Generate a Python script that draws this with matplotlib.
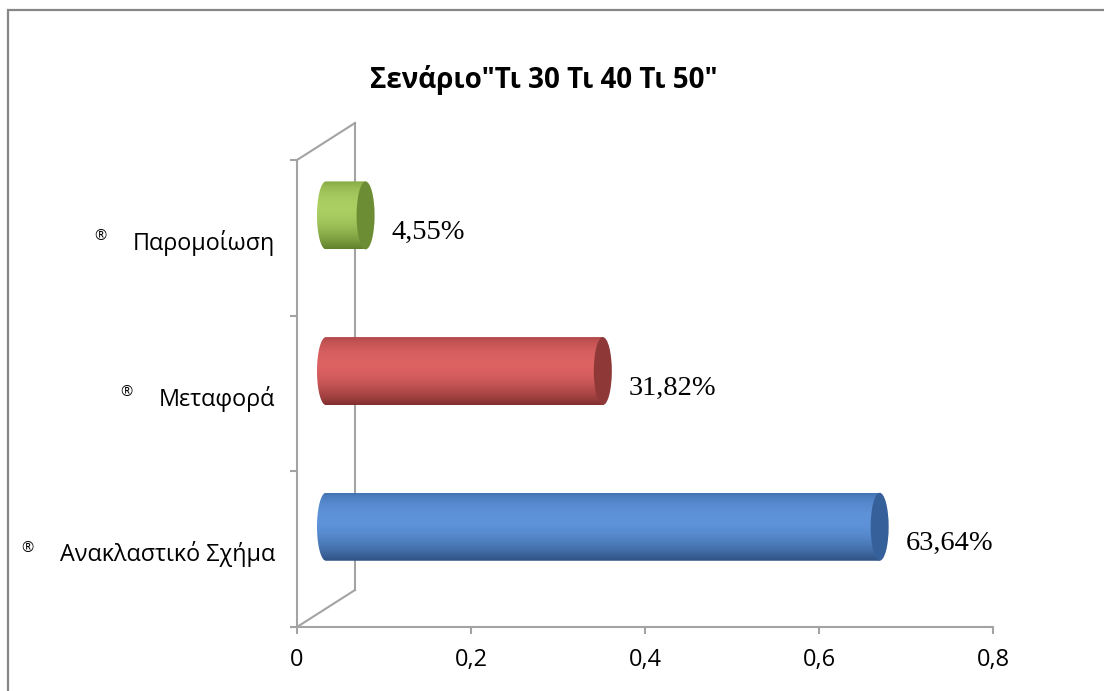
import numpy as np
import matplotlib
matplotlib.use("Agg")
import matplotlib.pyplot as plt
from matplotlib.patches import Ellipse, Polygon, Rectangle
from matplotlib.colors import to_rgb

# --- data -------------------------------------------------------------
categories = ["Ανακλαστικό Σχήμα", "Μεταφορά", "Παρομοίωση"]
values = [0.6364, 0.3182, 0.0455]
x_ticks = [0, 0.2, 0.4, 0.6, 0.8]
x_tick_labels = ["0", "0,2", "0,4", "0,6", "0,8"]
title = 'Σενάριο"Τι 30 Τι 40 Τι 50"'

# cylinder shading: (top edge, highlight, bottom edge, end cap)
palettes = [
    ("#4170AE", "#5E93DA", "#2E5283", "#36609A"),
    ("#AC4646", "#DD6262", "#822F2F", "#8E3838"),
    ("#82A540", "#ABCF62", "#60802B", "#6C8D33"),
]

W, H, DPI = 1104, 691, 100
fig = plt.figure(figsize=(W / DPI, H / DPI), dpi=DPI)
fig.patch.set_facecolor("white")

# plot area in pixels
x0_px, x1_px = 297, 993
ytop_px, ybot_px = 160, 627
ax = fig.add_axes([x0_px / W, (H - ybot_px) / H,
                   (x1_px - x0_px) / W, (ybot_px - ytop_px) / H])
ax.set_xlim(0, 0.8)
ax.set_ylim(-0.5, 2.5)
ax.set_facecolor("none")

px_x = (x1_px - x0_px) / 0.8          # pixels per x unit
px_y = (ybot_px - ytop_px) / 3.0      # pixels per category

grey = "#A3A3A3"
for s in ("top", "right"):
    ax.spines[s].set_visible(False)
for s in ("left", "bottom"):
    ax.spines[s].set_color(grey)
    ax.spines[s].set_linewidth(1.5)

ax.set_xticks(x_ticks)
ax.set_xticklabels(x_tick_labels, fontsize=17, family="Open Sans")
ax.set_yticks([-0.5, 0.5, 1.5, 2.5])
ax.set_yticklabels([])
ax.tick_params(axis="both", direction="out", length=5, width=1.5, color=grey)
ax.tick_params(axis="x", pad=10)

# back wall of the 3-D frame
dx = 58 / px_x
dy = 37 / px_y
wall = dict(color=grey, lw=1.5, clip_on=False, zorder=1)
ax.plot([dx, dx], [-0.5 + dy, 2.5 + dy], **wall)
ax.plot([0, dx], [-0.5, -0.5 + dy], **wall)
ax.plot([0, dx], [2.5, 2.5 + dy], **wall)

# cylinders
bar_dx = 29 / px_x
bar_dy = 0.144
rx = 9 / px_x
ry = 34 / px_y


def gradient_column(top, mid, bot, n=128):
    t = np.linspace(0, 1, n)
    c_top, c_mid, c_bot = (np.array(to_rgb(c)) for c in (top, mid, bot))
    out = np.empty((n, 1, 3))
    for i, ti in enumerate(t):
        if ti < 0.4:
            f = ti / 0.4
            f = np.sin(f * np.pi / 2) ** 0.6
            out[i, 0] = c_top * (1 - f) + c_mid * f
        else:
            f = (ti - 0.4) / 0.6
            f = f ** 1.8
            out[i, 0] = c_mid * (1 - f) + c_bot * f
    return out


for i, (val, pal) in enumerate(zip(values, palettes)):
    yc = i + bar_dy
    xs = bar_dx
    xe = bar_dx + val
    th = np.linspace(np.pi / 2, 3 * np.pi / 2, 60)
    pts = [(xs + rx * np.cos(a), yc + ry * np.sin(a)) for a in th]
    pts += [(xe, yc - ry), (xe, yc + ry)]
    body = Polygon(pts, closed=True, facecolor="none", edgecolor="none")
    ax.add_patch(body)
    img = ax.imshow(gradient_column(pal[0], pal[1], pal[2]),
                    extent=(xs - rx, xe, yc - ry, yc + ry),
                    aspect="auto", interpolation="bicubic", zorder=2)
    img.set_clip_path(body)
    cap = Ellipse((xe, yc), 2 * rx, 2 * ry, facecolor=pal[3],
                  edgecolor="none", zorder=3)
    ax.add_patch(cap)
    label = f"{val * 100:.2f}%".replace(".", ",")
    ax.annotate(label, xy=(xe + rx, yc - 0.09), xytext=(17, -3),
                textcoords="offset pixels", ha="left", va="center",
                fontsize=20.5, family="Liberation Serif", color="black")

ax.set_xlim(0, 0.8)
ax.set_ylim(-0.5, 2.5)

# category labels with list bullet
cat_texts = []
for i, cat in enumerate(categories):
    t = ax.annotate(cat, xy=(0, i), xycoords=("axes fraction", "data"),
                    xytext=(-22, -5), textcoords="offset pixels",
                    ha="right", va="center", fontsize=16.8,
                    family="Open Sans", color="black")
    cat_texts.append(t)

fig.text(544 / W, 1 - 80 / H, title, ha="center", va="center",
         fontsize=20, fontweight="bold", family="Open Sans")

# outer chart border
fig.add_artist(Rectangle((8 / W, -0.05), 1.1, 1 - 10 / H + 0.05,
                         transform=fig.transFigure, facecolor="none",
                         edgecolor="#878787", lw=1.6))

fig.canvas.draw()
renderer = fig.canvas.get_renderer()
for i, t in enumerate(cat_texts):
    bb = t.get_window_extent(renderer)
    y_pix = ax.transData.transform((0, i))[1]
    fig.text((bb.x0 - 26) / W, (y_pix + 1) / H, "®", ha="right",
             va="center", fontsize=10.5, family="Open Sans")

fig.savefig("out.png", dpi=DPI)
